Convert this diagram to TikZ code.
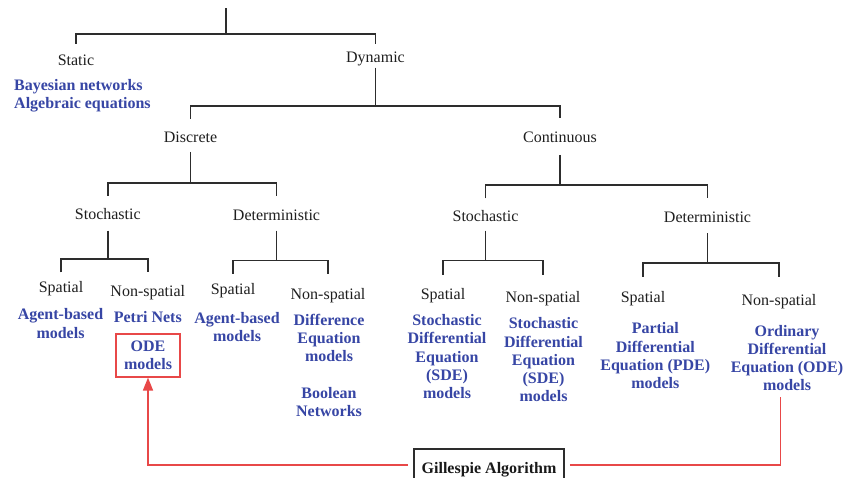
\documentclass[tikz,border=0pt]{standalone}
\usepackage{fontspec}
\setmainfont{Liberation Serif}
\usetikzlibrary{arrows.meta}
\definecolor{blueT}{RGB}{55,70,165}
\definecolor{lineC}{RGB}{45,45,45}
\definecolor{redC}{RGB}{232,72,72}
\begin{document}
\begin{tikzpicture}[x=1pt,y=-1pt,
  lbl/.style={anchor=base,inner sep=0pt,font=\fontsize{16}{18}\selectfont,text=black!88},
  mdl/.style={anchor=base,inner sep=0pt,align=center,font=\bfseries\fontsize{16}{18.2}\selectfont,text=blueT},
  tline/.style={draw=lineC,line width=1.6pt},
  rline/.style={draw=redC,line width=1.6pt}]
\clip (0,0) rectangle (844,478);
\fill[white] (0,0) rectangle (844,478);
% labels
\node[lbl] (static) at (76,65.5) {Static};
\node[lbl] (dyn) at (375.5,63) {Dynamic};
\node[mdl,align=left,anchor=base west] (bayes) at (14,108.3) {Bayesian networks\\Algebraic equations};
\node[lbl] (disc) at (190.5,142.7) {Discrete};
\node[lbl] (cont) at (560,142.7) {Continuous};
\node[lbl] (dstoch) at (107.8,219.3) {Stochastic};
\node[lbl] (ddet) at (276.5,221) {Deterministic};
\node[lbl] (cstoch) at (485.5,221.7) {Stochastic};
\node[lbl] (cdet) at (707.5,222.7) {Deterministic};
\node[lbl] (sp1) at (61,292.7) {Spatial};
\node[lbl] (ns1) at (147.8,296.7) {Non-spatial};
\node[lbl] (sp2) at (233,295) {Spatial};
\node[lbl] (ns2) at (328,299.3) {Non-spatial};
\node[lbl] (sp3) at (443,299.3) {Spatial};
\node[lbl] (ns3) at (543,302.7) {Non-spatial};
\node[lbl] (sp4) at (643,302.7) {Spatial};
\node[lbl] (ns4) at (779,306) {Non-spatial};
% model texts (base = baseline of last line)
\node[mdl] (agent1) at (60.5,338.2) {Agent-based\\models};
\node[mdl] (petri) at (147.8,322.7) {Petri Nets};
\node[mdl,draw=redC,line width=1.4pt,minimum width=64pt,minimum height=43pt,anchor=center] (ode) at (148,355.4) {ODE\\models};
\node[mdl] (agent2) at (237,342) {Agent-based\\models};
\node[mdl] (diff) at (329,361.9) {Difference\\Equation\\models};
\node[mdl] (bool) at (329,416.7) {Boolean\\Networks};
\node[mdl] (sde1) at (447,398.5) {Stochastic\\Differential\\Equation\\(SDE)\\models};
\node[mdl] (sde2) at (543.5,401.7) {Stochastic\\Differential\\Equation\\(SDE)\\models};
\node[mdl] (pde) at (655.3,388.5) {Partial\\Differential\\Equation (PDE)\\models};
\node[mdl] (odem) at (787,390.7) {Ordinary\\Differential\\Equation (ODE)\\models};
\node[anchor=north,draw=lineC,line width=1.6pt,minimum width=150pt,minimum height=42pt,inner sep=0pt,
      font=\bfseries\fontsize{16}{18}\selectfont,text=black!90] (gill) at (489,448) {Gillespie Algorithm};
% tree connectors
\coordinate (root) at (225.7,8.3);
\draw[tline] (root) -- (225.7,34.3);
\draw[tline] (static.north |- 0,44) -- (static.north |- 0,34.3) -- (dyn.north |- 0,34.3) -- (dyn.north |- 0,44);
\draw[tline] (dyn.south |- 0,67.7) -- (dyn.south |- 0,106);
\draw[tline] (disc.north |- 0,119) -- (disc.north |- 0,106) -- (cont.north |- 0,106) -- (cont.north |- 0,118.5);
\draw[tline] (disc.south |- 0,152) -- (disc.south |- 0,183.3);
\draw[tline] (dstoch.north |- 0,196) -- (dstoch.north |- 0,183.3) -- (ddet.north |- 0,183.3) -- (ddet.north |- 0,196);
\draw[tline] (cont.south |- 0,155) -- (cont.south |- 0,185);
\draw[tline] (cstoch.north |- 0,198.3) -- (cstoch.north |- 0,185) -- (cdet.north |- 0,185) -- (cdet.north |- 0,198.3);
\draw[tline] (dstoch.south |- 0,230.7) -- (dstoch.south |- 0,259);
\draw[tline] (sp1.north |- 0,272.3) -- (sp1.north |- 0,259) -- (ns1.north |- 0,259) -- (ns1.north |- 0,272.3);
\draw[tline] (ddet.south |- 0,230.7) -- (ddet.south |- 0,260.7);
\draw[tline] (sp2.north |- 0,274) -- (sp2.north |- 0,260.7) -- (ns2.north |- 0,260.7) -- (ns2.north |- 0,274);
\draw[tline] (cstoch.south |- 0,230.7) -- (cstoch.south |- 0,260.7);
\draw[tline] (sp3.north |- 0,275) -- (sp3.north |- 0,260.7) -- (ns3.north |- 0,260.7) -- (ns3.north |- 0,275);
\draw[tline] (cdet.south |- 0,233.3) -- (cdet.south |- 0,263.3);
\draw[tline] (sp4.north |- 0,276.7) -- (sp4.north |- 0,263.3) -- (ns4.north |- 0,263.3) -- (ns4.north |- 0,276.7);
% red connectors
\draw[rline,-{Triangle[length=13pt,width=10pt]}] ([xshift=-5pt]gill.west |- 0,465) -| (ode.south);
\coordinate (odetail) at (780.3,397.3);
\draw[rline] ([xshift=5pt]gill.east |- 0,465) -| (odetail);
\end{tikzpicture}
\end{document}
